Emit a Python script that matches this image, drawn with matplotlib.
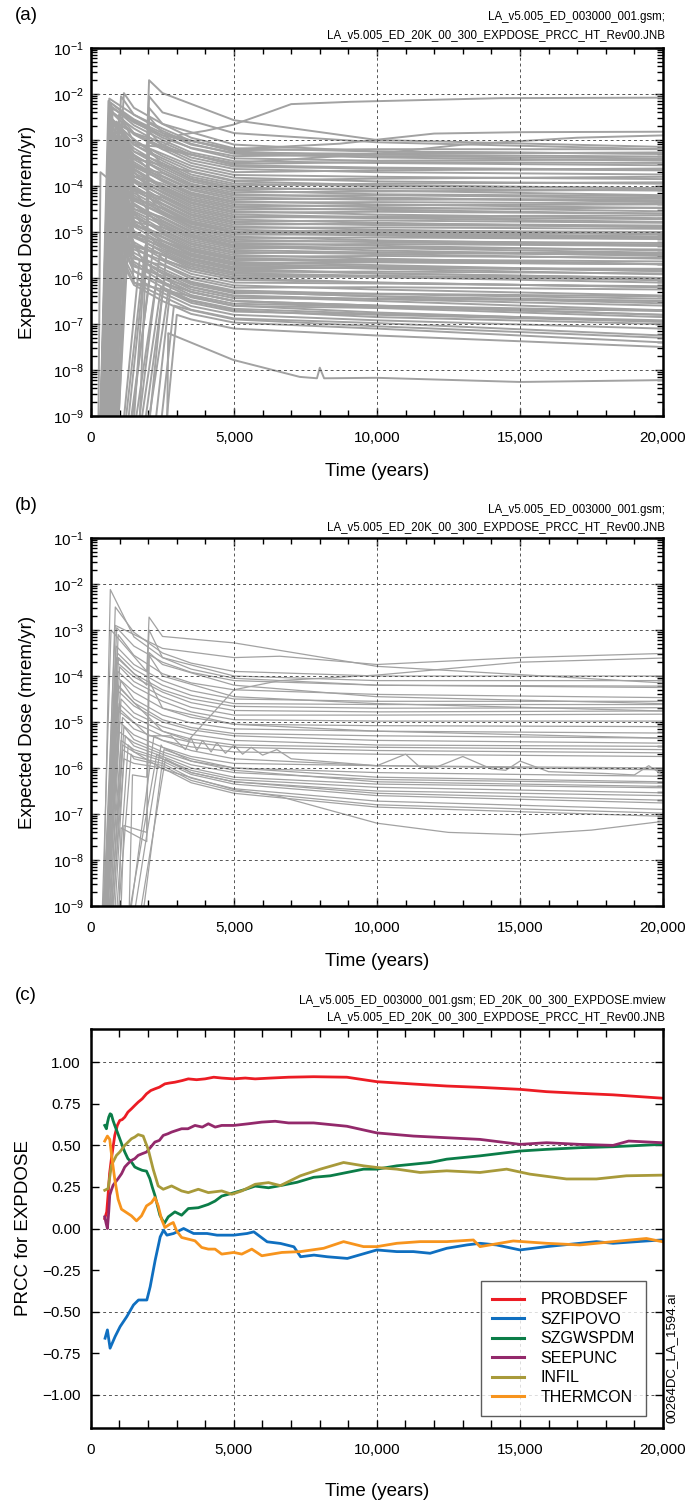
import numpy as np
import matplotlib
matplotlib.use("Agg")
import matplotlib.pyplot as plt
from matplotlib.ticker import MultipleLocator, LogLocator, FuncFormatter, NullFormatter

plt.rcParams['font.family'] = ['Liberation Sans', 'DejaVu Sans']
plt.rcParams['mathtext.fontset'] = 'custom'
plt.rcParams['mathtext.rm'] = 'Liberation Sans'
plt.rcParams['mathtext.default'] = 'regular'

nan = np.nan
BELOW = -10.0  # log10 value used for "below the axis" starting points

# ---------------- panel (a): all realizations, log10 expected dose ----------------
# each line: start time, peak time, peak, value at 1500, 2500, 3500, 5000, 10000, 20000 yr
A_T0 = [300, 320, 290, 340, 310, 560, 300, 480, 330, 650, 300, 370,
        310, 540, 290, 700, 320, 460, 300, 820, 330, 590, 310, 380, 300, 740, 320, 510,
        290, 400, 620, 310, 370, 300, 860, 330, 530, 310, 390, 300, 680, 320, 470, 300,
        380, 760, 460, 310, 570, 290, 400, 900, 320, 370, 300, 640, 330, 500, 310, 780,
        300, 350, 610, 320, 380, 300, 720, 450,
        310, 550, 300, 840, 330, 370, 310, 660, 340, 300, 520, 320, 880, 310, 390, 330,
        380, 420, 250,
        1000, 1050, 1150, 1200, 1250, 1350, 1400, 1500, 1550, 1650, 1700, 1800, 1900,
        2100, 2300, 2500]
A_TP = [640, 700, 610, 760, 680, 980, 660, 880, 720, 1100, 640, 850,
        690, 940, 620, 1150, 700, 800, 650, 1250, 720, 960, 660, 840, 640, 1180, 700, 890,
        630, 880, 1050, 680, 820, 650, 1300, 710, 930, 670, 860, 640, 1120, 700, 850, 650,
        830, 1200, 1000, 680, 960, 620, 880, 1350, 690, 810, 650, 1080, 720, 900, 670, 1220,
        640, 770, 1000, 700, 830, 660, 1150, 980,
        680, 950, 650, 1280, 720, 820, 670, 1100, 740, 640, 940, 700, 1320, 680, 860, 720,
        1150, 1050, 330,
        1700, 1900, 2000, 2100, 2200, 2300, 2000, 2400, 2450, 2000, 2600, 2700, 2650,
        2800, 2900, 3000]
A_PEAK = [-2.10, -2.20, -2.15, -2.30, -2.25, -2.45, -2.35, -2.60, -2.40, -2.55, -2.50, -2.70,
          -2.60, -2.75, -2.55, -2.90, -2.70, -2.85, -2.65, -3.00, -2.80, -2.95, -2.75, -3.05,
          -2.80, -3.20, -2.90, -3.10, -2.85, -3.25, -3.00, -2.95, -3.20, -3.00, -3.40, -3.10,
          -3.20, -3.05, -3.40, -3.10, -3.55, -3.20, -3.40, -3.25, -3.55, -3.40, -3.80, -3.35,
          -3.55, -3.30, -3.75, -3.60, -3.50, -3.75, -3.55, -4.00, -3.70, -3.85, -3.70, -4.00,
          -3.75, -3.95, -4.20, -3.90, -4.15, -3.95, -4.10, -4.45,
          -4.15, -4.35, -4.25, -4.60, -4.45, -4.65, -4.50, -4.85, -4.70, -4.65, -4.95, -4.85,
          -5.00, -5.00, -5.25, -5.20,
          -1.98, -2.05, -3.70,
          -5.6, -5.3, -5.0, -5.8, -5.2, -6.0, -4.6, -5.5, -6.2, -4.2, -5.9, -6.3, -5.4,
          -6.1, -6.6, -6.8]
A_L1500 = [-2.45, -2.55, -2.60, -2.62, -2.68, -2.85, -2.75, -2.85, -2.88, -3.05, -3.00, -3.10,
           -3.10, -3.25, -3.18, -3.40, -3.25, -3.35, -3.32, -3.58, -3.42, -3.55, -3.48, -3.58,
           -3.52, -3.80, -3.62, -3.72, -3.65, -3.78, -3.88, -3.78, -3.90, -3.85, -4.08, -3.92,
           -4.05, -4.00, -4.10, -4.05, -4.28, -4.15, -4.25, -4.20, -4.32, -4.50, -4.42, -4.38,
           -4.50, -4.42, -4.55, -4.78, -4.58, -4.68, -4.62, -4.85, -4.75, -4.85, -4.80, -5.05,
           -4.88, -4.98, -5.08, -5.00, -5.12, -5.08, -5.32, -5.28,
           -5.22, -5.38, -5.32, -5.58, -5.45, -5.55, -5.52, -5.75, -5.65, -5.70, -5.85, -5.85,
           -6.10, -5.98, -6.10, -6.15,
           -2.30, -2.45, -4.30,
           nan, nan, nan, nan, nan, nan, nan, nan, nan, nan, nan, nan, nan,
           nan, nan, nan]
A_L2500 = [-2.75, -2.85, -2.95, -2.90, -3.00, -3.05, -3.10, -3.15, -3.20, -3.30, -3.35, -3.40,
           -3.45, -3.50, -3.55, -3.55, -3.60, -3.65, -3.70, -3.72, -3.78, -3.80, -3.85, -3.88,
           -3.90, -3.95, -4.00, -4.02, -4.05, -4.08, -4.12, -4.15, -4.20, -4.22, -4.25, -4.30,
           -4.32, -4.38, -4.40, -4.45, -4.48, -4.50, -4.55, -4.58, -4.62, -4.68, -4.70, -4.75,
           -4.78, -4.82, -4.85, -4.90, -4.95, -4.98, -5.02, -5.05, -5.10, -5.12, -5.18, -5.20,
           -5.25, -5.28, -5.32, -5.36, -5.40, -5.44, -5.48, -5.50,
           -5.58, -5.62, -5.70, -5.72, -5.80, -5.85, -5.90, -5.95, -6.00, -6.08, -6.12, -6.20,
           -6.25, -6.32, -6.40, -6.50,
           -2.65, -2.80, -4.60,
           -5.9, -5.5, -5.2, -6.0, -5.3, -6.1, -4.9, -5.6, -6.25, -4.6, nan, nan, nan,
           nan, nan, nan]
A_L3500 = [-3.02, -3.10, -3.17, -3.18, -3.27, -3.32, -3.38, -3.44, -3.50, -3.56, -3.62, -3.68,
           -3.75, -3.80, -3.84, -3.86, -3.90, -3.95, -3.98, -4.02, -4.06, -4.09, -4.14, -4.17,
           -4.20, -4.24, -4.28, -4.31, -4.35, -4.38, -4.42, -4.46, -4.50, -4.53, -4.57, -4.61,
           -4.64, -4.68, -4.72, -4.76, -4.79, -4.83, -4.87, -4.90, -4.94, -4.98, -5.01, -5.05,
           -5.08, -5.12, -5.16, -5.20, -5.24, -5.27, -5.31, -5.35, -5.38, -5.42, -5.46, -5.49,
           -5.53, -5.57, -5.60, -5.64, -5.68, -5.71, -5.75, -5.79,
           -5.85, -5.91, -5.97, -6.02, -6.08, -6.14, -6.19, -6.25, -6.31, -6.37, -6.42, -6.48,
           -6.54, -6.61, -6.69, -6.78,
           -2.95, -3.08, -4.80,
           -6.1, -5.7, -5.4, -6.2, -5.5, -6.3, -5.1, -5.8, -6.4, -4.8, -6.1, -6.5, -5.6,
           -6.3, -6.7, -6.9]
A_L5000 = [-3.22, -3.28, -3.35, -3.40, -3.46, -3.52, -3.58, -3.63, -3.70, -3.76, -3.82, -3.88,
           -3.95, -3.99, -4.03, -4.07, -4.10, -4.14, -4.18, -4.21, -4.25, -4.29, -4.33, -4.36,
           -4.40, -4.44, -4.47, -4.51, -4.55, -4.58, -4.62, -4.66, -4.69, -4.73, -4.77, -4.80,
           -4.84, -4.88, -4.91, -4.95, -4.99, -5.02, -5.06, -5.10, -5.13, -5.17, -5.21, -5.24,
           -5.28, -5.32, -5.35, -5.39, -5.43, -5.46, -5.50, -5.54, -5.57, -5.61, -5.65, -5.68,
           -5.72, -5.76, -5.79, -5.83, -5.87, -5.90, -5.94, -5.98,
           -6.04, -6.10, -6.16, -6.21, -6.27, -6.33, -6.38, -6.44, -6.50, -6.56, -6.61, -6.67,
           -6.73, -6.80, -6.88, -6.97,
           -3.18, -3.30, -5.00,
           -6.3, -5.9, -5.6, -6.4, -5.7, -6.5, -5.3, -6.0, -6.6, -5.0, -6.3, -6.7, -5.8,
           -6.5, -6.9, -7.1]
A_L10000 = [-3.20, -3.30, -3.32, -3.45, -3.50, -3.48, -3.62, -3.70, -3.66, -3.80, -3.90, -3.84,
            -4.00, -3.95, -4.10, -4.05, -4.18, -4.12, -4.25, -4.20, -4.30, -4.27, -4.40, -4.35,
            -4.46, -4.42, -4.52, -4.50, -4.62, -4.56, -4.68, -4.70, -4.66, -4.80, -4.75, -4.85,
            -4.82, -4.95, -4.90, -5.02, -4.97, -5.08, -5.05, -5.18, -5.12, -5.22, -5.20, -5.30,
            -5.26, -5.40, -5.34, -5.45, -5.48, -5.44, -5.58, -5.52, -5.62, -5.60, -5.72, -5.66,
            -5.80, -5.78, -5.78, -5.90, -5.86, -5.98, -5.96, -5.97,
            -6.10, -6.12, -6.25, -6.20, -6.35, -6.34, -6.46, -6.45, -6.60, -6.62, -6.65, -6.78,
            -6.80, -6.92, -6.98, -7.10,
            -3.25, -3.38, -5.05,
            -6.4, -5.95, -5.65, -6.5, -5.75, -6.6, -5.35, -6.1, -6.75, -5.0, -6.4, -6.85, -5.9,
            -6.65, -7.05, -7.25]
A_L20000 = [-3.20, -3.27, -3.36, -3.42, -3.55, -3.50, -3.66, -3.75, -3.62, -3.85, -3.95, -3.80,
            -4.05, -3.92, -4.20, -4.10, -4.22, -4.08, -4.35, -4.26, -4.28, -4.32, -4.48, -4.38,
            -4.55, -4.40, -4.60, -4.47, -4.70, -4.60, -4.72, -4.78, -4.64, -4.90, -4.80, -4.88,
            -4.86, -5.05, -4.93, -5.10, -5.00, -5.15, -5.12, -5.28, -5.15, -5.30, -5.24, -5.40,
            -5.30, -5.52, -5.38, -5.50, -5.58, -5.46, -5.70, -5.56, -5.70, -5.64, -5.85, -5.70,
            -5.92, -5.82, -5.80, -6.00, -5.90, -6.10, -6.02, -6.00,
            -6.20, -6.18, -6.38, -6.25, -6.45, -6.40, -6.60, -6.50, -6.72, -6.80, -6.70, -6.92,
            -6.95, -7.10, -7.25, -7.40,
            -3.30, -3.45, -5.10,
            -6.5, -6.05, -5.7, -6.7, -5.85, -6.8, -5.45, -6.2, -6.95, -5.05, -6.55, -7.0, -6.0,
            -6.85, -7.3, -7.5]

# lines with a second release step near 2,000 yr:
# start, first peak time, first peak, level before step, step peak, 2500, 5000, 10000, 20000
AJ_T0 = [330, 350, 300, 380, 310, 340]
AJ_TP = [720, 760, 650, 820, 680, 740]
AJ_PEAK = [-2.60, -2.90, -3.10, -3.40, -3.80, -4.30]
AJ_PRE = [-3.20, -3.60, -4.00, -4.50, -5.00, -5.80]
AJ_STEP = [-1.70, -2.05, -2.30, -2.50, -2.80, -3.20]
AJ_L2500 = [-1.98, -2.40, -2.65, -2.85, -3.15, -3.55]
AJ_L5000 = [-2.57, -2.85, -3.10, -3.25, -3.55, -3.90]
AJ_L10000 = [-3.00, -3.05, -3.25, -3.35, -3.60, -3.98]
AJ_L20000 = [-3.15, -3.20, -3.30, -3.40, -3.65, -4.05]

# single curves of unusual shape (time, log10 dose)
A_RISE1_T = [320, 690, 1500, 2500, 3100, 4000, 4960, 6150, 7000, 9060, 14300, 20000]
A_RISE1_L = [BELOW, -2.5, -3.1, -3.15, -2.89, -2.8, -2.67, -2.41, -2.22, -2.17, -2.09, -2.08]
A_RISE2_T = [330, 700, 2500, 5000, 8700, 12000, 15000, 20000]
A_RISE2_L = [BELOW, -2.3, -2.9, -3.2, -3.08, -2.86, -2.83, -2.82]
A_RISE3_T = [360, 780, 2500, 5000, 10000, 13000, 17000, 20000]
A_RISE3_L = [BELOW, -2.6, -3.2, -3.5, -3.3, -3.1, -2.95, -2.9]
A_LOW_T = [2650, 2700, 4970, 7300, 7900, 8000, 8150, 10000, 15000, 20000]
A_LOW_L = [BELOW, -7.2, -7.78, -8.15, -8.18, -7.95, -8.18, -8.17, -8.26, -8.22]

# ---------------- panel (b): subset of realizations ----------------
B_T0 = [400, 450, 380, 500, 420, 350, 470, 400, 520, 440, 380, 560, 460, 400, 600, 480,
        420, 650, 500, 700, 450, 750, 550, 800, 600, 850, 650, 1100, 1300, 1500, 1650, 1200]
B_TP = [676, 850, 900, 950, 880, 920, 960, 900, 1000, 940, 870, 1040, 950, 900, 1050, 980,
        930, 1100, 1000, 1150, 960, 1200, 1050, 1300, 1100, 1400, 1150, 2300, 2450, 2600, 2550, 2200]
B_PEAK = [-2.12, -2.50, -2.95, -3.10, -3.35, -3.50, -3.60, -3.70, -3.80, -3.90, -4.00, -4.10,
          -4.20, -4.30, -4.50, -4.60, -4.75, -4.90, -5.00, -5.10, -5.20, -5.30, -5.40, -5.50,
          -5.60, -5.70, -5.80, -5.70, -5.50, -5.80, -5.60, -5.30]
B_L1500 = [-3.15, -3.05, -3.35, -3.55, -3.75, -3.85, -3.95, -4.02, -4.12, -4.22, -4.35, -4.50,
           -4.58, -4.65, -4.80, -4.90, -5.02, -5.15, -5.28, -5.38, -5.45, -5.52, -5.60, -5.65,
           -5.75, -5.80, -5.90, nan, nan, nan, nan, nan]
B_L2500 = [-3.60, -3.50, -3.70, -3.95, -4.10, -4.20, -4.30, -4.35, -4.45, -4.55, -4.70, -4.85,
           -4.95, -5.00, -5.10, -5.20, -5.30, -5.40, -5.55, -5.65, -5.70, -5.75, -5.80, -5.85,
           -5.90, -5.95, -6.00, -5.80, -5.55, nan, nan, -5.40]
B_L3500 = [-3.85, -3.72, -3.92, -4.15, -4.32, -4.42, -4.50, -4.58, -4.68, -4.78, -4.90, -5.02,
           -5.12, -5.17, -5.27, -5.37, -5.44, -5.54, -5.75, -5.85, -5.93, -6.00, -6.05, -6.14,
           -6.22, -6.27, -6.32, -6.10, -5.85, -6.10, -5.80, -5.62]
B_L5000 = [-4.05, -3.90, -4.10, -4.30, -4.50, -4.60, -4.66, -4.75, -4.85, -4.95, -5.05, -5.15,
           -5.25, -5.30, -5.40, -5.50, -5.55, -5.65, -5.90, -6.00, -6.10, -6.20, -6.25, -6.35,
           -6.45, -6.50, -6.55, -6.30, -6.05, -6.30, -6.00, -5.80]
B_L10000 = [-4.20, -4.00, -4.20, -4.40, -4.55, -4.62, -4.70, -4.78, -4.85, -4.98, -5.08, -5.20,
            -5.30, -5.40, -5.50, -5.55, -5.62, -5.70, -5.95, -6.10, -6.25, -6.35, -6.42, -6.60,
            -6.72, -6.80, -6.85, -6.55, -6.30, -6.50, -6.20, -5.95]
B_L20000 = [-4.25, -4.00, -4.22, -4.47, -4.55, -4.62, -4.69, -4.76, -4.83, -4.98, -5.10, -5.24,
            -5.35, -5.46, -5.53, -5.60, -5.67, -5.75, -6.04, -6.18, -6.33, -6.43, -6.54, -6.76,
            -6.90, -6.98, -7.05, -6.70, -6.40, -6.60, -6.30, -6.00]

BJ_T0 = [350, 1300, 950, 1000, 400]
BJ_TP = [700, 1450, 1050, 1150, 900]
BJ_PEAK = [-3.00, -6.15, -7.30, -7.25, -3.60]
BJ_PRE = [-3.90, -6.20, -7.60, -7.40, -4.20]
BJ_STEP = [-2.72, -3.49, -3.55, -4.10, -3.00]
BJ_L2500 = [-3.14, -3.75, -4.00, -4.70, -3.60]
BJ_L5000 = [-3.28, -4.20, -4.45, -5.05, -4.00]
BJ_L10000 = [-3.79, -4.45, -4.60, -5.20, -4.10]
BJ_L20000 = [-4.15, -4.60, -4.76, -5.35, -4.10]

B_RISE1_T = [400, 900, 2500, 3400, 5000, 6600, 10000, 15000, 20000]
B_RISE1_L = [BELOW, -4.2, -5.2, -5.4, -4.3, -4.1, -3.98, -3.7, -3.61]
B_RISE2_T = [380, 850, 2500, 5000, 6600, 10000, 15000, 20000]
B_RISE2_L = [BELOW, -2.9, -3.4, -3.6, -3.57, -3.75, -3.6, -3.51]
B_LOW_T = [600, 1100, 2560, 5000, 6600, 10000, 12500, 15000, 17500, 20000]
B_LOW_L = [BELOW, -5.5, -6.04, -6.47, -6.62, -7.2, -7.4, -7.45, -7.35, -7.16]
B_SPIKY_T = [400, 800, 2000, 2800, 3300, 3500, 3700, 3900, 4200, 4400, 4700, 5000, 5300,
             5600, 6000, 6500, 7000, 8000, 9000, 10000, 11000, 11500, 12000, 13000, 14000,
             14500, 15000, 16000, 17000, 18000, 19000, 19500, 20000]
B_SPIKY_L = [BELOW, -4.6, -5.3, -5.3, -5.6, -5.35, -5.62, -5.4, -5.65, -5.45, -5.68, -5.5,
             -5.7, -5.55, -5.72, -5.6, -5.8, -5.85, -5.9, -5.95, -5.7, -5.98, -6.0, -5.75,
             -6.02, -6.05, -5.85, -6.08, -6.1, -6.12, -6.15, -5.95, -6.15]

# ---------------- panel (c): PRCC time histories ----------------
PROB_T = [490, 560, 607, 660, 724, 790, 841, 930, 1016, 1100, 1191, 1300, 1425, 1540, 1659,
          1800, 1950, 2100, 2243, 2400, 2593, 2750, 2943, 3200, 3411, 3700, 3995, 4300, 4579,
          5000, 5400, 5747, 6300, 6915, 7791, 8953, 10000, 11279, 12442, 13605, 15000, 15930,
          17093, 18256, 19967]
PROB_V = [0.06, 0.10, 0.20, 0.33, 0.42, 0.50, 0.56, 0.62, 0.65, 0.655, 0.67, 0.70, 0.72, 0.74,
          0.76, 0.78, 0.81, 0.83, 0.84, 0.85, 0.87, 0.875, 0.88, 0.89, 0.90, 0.895, 0.90, 0.91,
          0.905, 0.90, 0.905, 0.90, 0.905, 0.91, 0.913, 0.91, 0.883, 0.869, 0.857, 0.849, 0.837,
          0.823, 0.813, 0.804, 0.784]
SZFI_T = [502, 584, 677, 853, 1028, 1261, 1495, 1670, 1962, 2079, 2254, 2429, 2546, 2663, 2897,
          3247, 3597, 4065, 4415, 4999, 5466, 5700, 6167, 6634, 7101, 7335, 7802, 8269, 8970,
          10000, 10698, 11279, 11861, 12442, 13140, 13605, 14186, 15000, 15930, 17093, 17675,
          18256, 19419, 19967]
SZFI_V = [-0.66, -0.61, -0.72, -0.65, -0.59, -0.53, -0.46, -0.43, -0.43, -0.35, -0.19, -0.05,
          -0.01, -0.04, -0.03, 0.0, -0.03, -0.03, -0.04, -0.04, -0.03, -0.02, -0.08, -0.09,
          -0.11, -0.17, -0.16, -0.17, -0.18, -0.129, -0.139, -0.139, -0.149, -0.119, -0.099,
          -0.089, -0.099, -0.129, -0.109, -0.089, -0.079, -0.089, -0.075, -0.069]
SZGW_T = [490, 549, 590, 631, 680, 724, 780, 841, 930, 1016, 1100, 1191, 1300, 1425, 1540, 1659,
          1800, 1950, 2067, 2150, 2243, 2330, 2418, 2570, 2710, 2943, 3177, 3411, 3761, 4111,
          4345, 4579, 5000, 5397, 5747, 6214, 6628, 7210, 7791, 8372, 8953, 9535, 10000, 10698,
          11279, 11861, 12442, 13605, 15000, 15930, 17093, 18256, 19967]
SZGW_V = [0.62, 0.60, 0.64, 0.67, 0.69, 0.685, 0.65, 0.62, 0.58, 0.54, 0.50, 0.46, 0.42, 0.40,
          0.37, 0.36, 0.35, 0.345, 0.30, 0.25, 0.20, 0.14, 0.08, 0.03, 0.07, 0.10, 0.08, 0.12,
          0.125, 0.145, 0.165, 0.195, 0.215, 0.235, 0.255, 0.245, 0.258, 0.278, 0.308, 0.317,
          0.337, 0.357, 0.357, 0.377, 0.387, 0.397, 0.417, 0.437, 0.466, 0.476, 0.486, 0.492,
          0.506]
SEEP_T = [490, 540, 584, 630, 666, 720, 783, 870, 958, 1080, 1191, 1300, 1425, 1540, 1659, 1800,
          1950, 2100, 2243, 2400, 2535, 2700, 2827, 3000, 3177, 3400, 3644, 3900, 4111, 4350,
          4579, 5000, 5513, 5980, 6447, 6915, 7791, 8953, 10000, 11279, 12442, 13605, 15000,
          15930, 17093, 18256, 18800, 19967]
SEEP_V = [0.07, 0.03, 0.0, 0.10, 0.20, 0.23, 0.26, 0.28, 0.30, 0.33, 0.37, 0.39, 0.41, 0.42,
          0.44, 0.45, 0.46, 0.49, 0.52, 0.53, 0.56, 0.57, 0.58, 0.59, 0.60, 0.60, 0.62, 0.61,
          0.63, 0.61, 0.62, 0.62, 0.63, 0.64, 0.645, 0.635, 0.635, 0.615, 0.575, 0.556, 0.546,
          0.536, 0.506, 0.516, 0.506, 0.50, 0.526, 0.516]
INFIL_T = [490, 607, 724, 900, 1016, 1191, 1425, 1540, 1659, 1834, 2009, 2184, 2359, 2535, 2827,
           3177, 3411, 3761, 4111, 4579, 4930, 5280, 5747, 6214, 6628, 7326, 8023, 8837, 9535,
           10000, 10698, 11512, 12442, 13605, 14535, 15349, 16628, 17675, 18721, 19967]
INFIL_V = [0.23, 0.24, 0.38, 0.44, 0.46, 0.50, 0.54, 0.55, 0.565, 0.556, 0.476, 0.356, 0.256,
           0.236, 0.256, 0.226, 0.216, 0.236, 0.216, 0.226, 0.206, 0.226, 0.266, 0.276, 0.258,
           0.317, 0.357, 0.397, 0.377, 0.367, 0.357, 0.337, 0.347, 0.337, 0.357, 0.327, 0.298,
           0.298, 0.317, 0.321]
THERM_T = [490, 584, 666, 748, 841, 958, 1075, 1250, 1425, 1600, 1775, 1950, 2126, 2243, 2359,
           2476, 2593, 2768, 2885, 3002, 3177, 3411, 3644, 3878, 4111, 4345, 4579, 5000, 5280,
           5630, 5980, 6330, 6681, 7326, 8140, 8837, 9535, 10000, 10698, 11512, 12442, 13373,
           13605, 14768, 15930, 17093, 18256, 19419, 19967]
THERM_V = [0.526, 0.556, 0.536, 0.416, 0.296, 0.176, 0.116, 0.096, 0.076, 0.046, 0.076, 0.136,
           0.156, 0.186, 0.136, 0.056, 0.006, 0.026, 0.036, -0.014, -0.054, -0.064, -0.074,
           -0.114, -0.124, -0.124, -0.154, -0.144, -0.154, -0.124, -0.164, -0.154, -0.144,
           -0.139, -0.119, -0.079, -0.109, -0.109, -0.089, -0.079, -0.079, -0.069, -0.109,
           -0.075, -0.089, -0.099, -0.079, -0.06, -0.079]

PRCC_NAMES = ["PROBDSEF", "SZFIPOVO", "SZGWSPDM", "SEEPUNC", "INFIL", "THERMCON"]
PRCC_COLORS = ["#ec1c24", "#0f6fc0", "#0b7d48", "#93296b", "#a89a3a", "#f7941d"]

HEADER1 = "LA_v5.005_ED_003000_001.gsm;"
HEADER1C = "LA_v5.005_ED_003000_001.gsm; ED_20K_00_300_EXPDOSE.mview"
HEADER2 = "LA_v5.005_ED_20K_00_300_EXPDOSE_PRCC_HT_Rev00.JNB"

GRAY = "#a2a2a2"
GRID_KW = dict(color="#555555", lw=0.7, ls=(0, (3, 3)), zorder=3)


def early_curve(t0, tp, lp, l15, l25, l35, l5, l10, l20):
    t = [t0, tp]
    y = [BELOW, lp]
    for tk, lk in ((1500, l15), (2500, l25), (3500, l35)):
        if tp < tk and not np.isnan(lk):
            t.append(tk)
            y.append(lk)
    t += [5000, 10000, 20000]
    y += [l5, l10, l20]
    return np.array(t, float), 10.0 ** np.array(y)


def step_curve(t0, tp, lp, pre, step, l25, l5, l10, l20):
    t = [t0, tp, 1950, 2030, 2500, 5000, 10000, 20000]
    y = [BELOW, lp, pre, step, l25, l5, l10, l20]
    return np.array(t, float), 10.0 ** np.array(y)


def setup_dose_axes(ax):
    ax.set_yscale("log")
    ax.set_xlim(0, 20000)
    ax.set_ylim(1e-9, 1e-1)
    ax.xaxis.set_major_locator(MultipleLocator(5000))
    ax.xaxis.set_minor_locator(MultipleLocator(1000))
    ax.xaxis.set_major_formatter(FuncFormatter(lambda v, p: f"{int(v):,}"))
    ax.yaxis.set_major_locator(LogLocator(base=10, numticks=20))
    ax.yaxis.set_minor_locator(LogLocator(base=10, subs=np.arange(2, 10), numticks=20))
    ax.yaxis.set_minor_formatter(NullFormatter())
    ax.tick_params(which="both", direction="in", top=True, right=True, width=1.0)
    ax.tick_params(which="major", length=6, labelsize=11)
    ax.tick_params(which="minor", length=4)
    ax.tick_params(axis="x", which="major", pad=11)
    ax.tick_params(axis="y", which="major", pad=5)
    for s in ax.spines.values():
        s.set_linewidth(1.8)
        s.set_zorder(5)
    for x in (5000, 10000, 15000):
        ax.axvline(x, **GRID_KW)
    for e in range(-8, -1):
        ax.axhline(10.0 ** e, **GRID_KW)


def draw_lines(ax, curves, lw):
    for t, y in curves:
        ax.plot(t, y, color=GRAY, lw=lw, zorder=2)


fig = plt.figure(figsize=(6.88, 15.05), dpi=100)
W, H = 688.0, 1505.0


def axes_px(left, top, right, bottom):
    return fig.add_axes([left / W, 1 - bottom / H, (right - left) / W, (bottom - top) / H])


# panel (a)
ax_a = axes_px(91, 48, 663, 416)
setup_dose_axes(ax_a)
curves = [early_curve(*row) for row in zip(A_T0, A_TP, A_PEAK, A_L1500, A_L2500, A_L3500,
                                            A_L5000, A_L10000, A_L20000)]
curves += [step_curve(*row) for row in zip(AJ_T0, AJ_TP, AJ_PEAK, AJ_PRE, AJ_STEP,
                                           AJ_L2500, AJ_L5000, AJ_L10000, AJ_L20000)]
for t, l in [(A_RISE1_T, A_RISE1_L), (A_RISE2_T, A_RISE2_L), (A_RISE3_T, A_RISE3_L), (A_LOW_T, A_LOW_L)]:
    curves.append((np.array(t, float), 10.0 ** np.array(l)))
draw_lines(ax_a, curves, 1.4)

# panel (b)
ax_b = axes_px(91, 538, 663, 906)
setup_dose_axes(ax_b)
curves = [early_curve(*row) for row in zip(B_T0, B_TP, B_PEAK, B_L1500, B_L2500, B_L3500,
                                            B_L5000, B_L10000, B_L20000)]
curves += [step_curve(*row) for row in zip(BJ_T0, BJ_TP, BJ_PEAK, BJ_PRE, BJ_STEP,
                                           BJ_L2500, BJ_L5000, BJ_L10000, BJ_L20000)]
for t, l in [(B_RISE1_T, B_RISE1_L), (B_RISE2_T, B_RISE2_L), (B_LOW_T, B_LOW_L), (B_SPIKY_T, B_SPIKY_L)]:
    curves.append((np.array(t, float), 10.0 ** np.array(l)))
draw_lines(ax_b, curves, 0.9)

# panel (c)
ax_c = axes_px(90.7, 1029, 663, 1428)
ax_c.set_xlim(0, 20000)
ax_c.set_ylim(-1.2, 1.2)
ax_c.xaxis.set_major_locator(MultipleLocator(5000))
ax_c.xaxis.set_minor_locator(MultipleLocator(1000))
ax_c.xaxis.set_major_formatter(FuncFormatter(lambda v, p: f"{int(v):,}"))
ax_c.yaxis.set_major_locator(MultipleLocator(0.25))
ax_c.yaxis.set_major_formatter(FuncFormatter(lambda v, p: f"{v:.2f}".replace("-", "\u2212")))
ax_c.tick_params(which="both", direction="in", top=True, right=True, width=1.0)
ax_c.tick_params(which="major", length=6, labelsize=11)
ax_c.tick_params(which="minor", length=6)
ax_c.tick_params(axis="x", which="major", pad=11)
ax_c.tick_params(axis="y", which="major", pad=7)
for s in ax_c.spines.values():
    s.set_linewidth(1.8)
    s.set_zorder(5)
for x in (5000, 10000, 15000):
    ax_c.axvline(x, color="#555555", lw=0.7, ls=(0, (3, 3)), zorder=1)
for yv in (-1.0, -0.5, 0.0, 0.5, 1.0):
    ax_c.axhline(yv, color="#555555", lw=0.7, ls=(0, (3, 3)), zorder=1)

series = [(PROB_T, PROB_V), (SZFI_T, SZFI_V), (SZGW_T, SZGW_V),
          (SEEP_T, SEEP_V), (INFIL_T, INFIL_V), (THERM_T, THERM_V)]
order = [4, 2, 3, 1, 5, 0]
for i in order:
    t, v = series[i]
    ax_c.plot(t, v, color=PRCC_COLORS[i], lw=2.0, zorder=2 + i * 0.01)
handles = [plt.Line2D([], [], color=c, lw=2.2) for c in PRCC_COLORS]
leg = ax_c.legend(handles, PRCC_NAMES, loc="lower right", bbox_to_anchor=(0.970, 0.030),
                  borderaxespad=0, fontsize=11.5, frameon=True, fancybox=False,
                  handlelength=2.0, labelspacing=0.28, borderpad=0.7, handletextpad=1.0)
leg.get_frame().set_edgecolor("#333333")
leg.get_frame().set_linewidth(1.0)
leg.set_zorder(6)

# texts
for lab, y in [("(a)", 16), ("(b)", 505), ("(c)", 995)]:
    fig.text(15 / W, 1 - y / H, lab, fontsize=13.5, ha="left", va="center")
for h1, h2, y1, y2 in [(HEADER1, HEADER2, 17, 35), (HEADER1, HEADER2, 510, 527),
                       (HEADER1C, HEADER2, 1001, 1017)]:
    fig.text(665 / W, 1 - y1 / H, h1, fontsize=8.3, ha="right", va="center")
    fig.text(665 / W, 1 - y2 / H, h2, fontsize=8.3, ha="right", va="center")
for y in (232, 722):
    fig.text(28 / W, 1 - y / H, "Expected Dose (mrem/yr)", fontsize=13.5, rotation=90,
             ha="center", va="center")
fig.text(24 / W, 1 - 1228 / H, "PRCC for EXPDOSE", fontsize=13.5, rotation=90,
         ha="center", va="center")
for y in (471, 962, 1492):
    fig.text(377 / W, 1 - y / H, "Time (years)", fontsize=13.5, ha="center", va="center")
fig.text(672 / W, 1 - 1358 / H, "00264DC_LA_1594.ai", fontsize=9.5, rotation=90,
         ha="center", va="center")

fig.savefig("out.png", dpi=100)
